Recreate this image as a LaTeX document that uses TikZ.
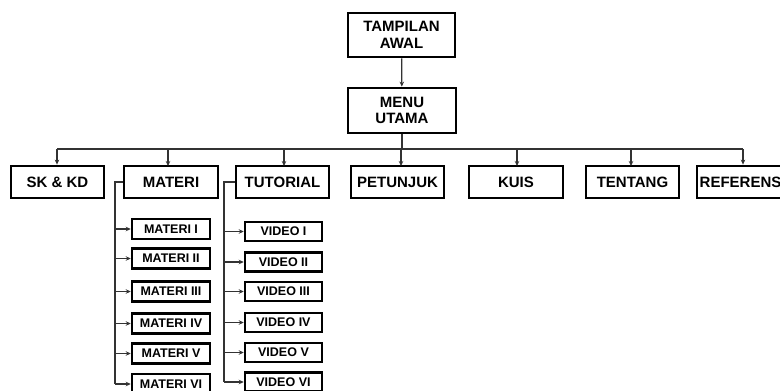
\documentclass[tikz,border=0pt]{standalone}
\usepackage{fontspec}
\setmainfont{Liberation Sans}
\usetikzlibrary{arrows.meta}
\begin{document}
\begin{tikzpicture}[x=1pt,y=-1pt,
  box/.style={draw=black,line width=2.8pt,fill=white,inner sep=0pt,font=\bfseries\fontsize{15}{16.5}\selectfont,align=center},
  topbox/.style={box,minimum width=93pt,minimum height=32pt},
  subbox/.style={draw=black,line width=2.5pt,fill=white,inner sep=0pt,font=\bfseries\fontsize{12.5}{14}\selectfont,minimum height=20pt},
  conn/.style={line width=1.2pt,draw=black!80},
  arr/.style={conn,-{Stealth[length=5pt,width=4.5pt]}}
]
\useasboundingbox (0,0) rectangle (780,391);
\clip (0,0) rectangle (780,391);
% top
\node[box,minimum width=107pt,minimum height=44pt] (awal) at (401.5,35) {TAMPILAN\\AWAL};
\node[box,minimum width=108pt,minimum height=45pt] (menu) at (402,110.5) {MENU\\UTAMA};
\draw[arr] (awal) -- (menu);
% row
\node[topbox] (sk) at (57.5,182) {SK \& KD};
\node[topbox,minimum width=94pt] (materi) at (171,182) {MATERI};
\node[topbox] (tutorial) at (282.5,182) {TUTORIAL};
\node[topbox] (petunjuk) at (397.5,182) {PETUNJUK};
\node[topbox,minimum width=94pt] (kuis) at (516,182) {KUIS};
\node[topbox] (tentang) at (632.5,182) {TENTANG};
\node[topbox,minimum width=100pt] (ref) at (747,182) {};
\node[anchor=west,inner sep=0pt,font=\bfseries\fontsize{15}{16.5}\selectfont] (reftext) at (699.5,182) {REFERENS};
\coordinate (bus) at (0,149);
\coordinate (busL) at (57,149);
\coordinate (busR) at (743,149);
\draw[conn] (busL) -- (busR);
\draw[conn] (menu.south) -- (menu.south |- bus);
\draw[arr] (busL) -- (busL |- sk.north);
\draw[arr] (168,149) -- (168,166);
\draw[arr] (284,149) -- (284,166);
\draw[arr] (401,149) -- (401,166);
\draw[arr] (517,149) -- (517,166);
\draw[arr] (631,149) -- (631,166);
\draw[arr] (busR) -- (busR |- ref.north);
% materi subs
\foreach \n/\t/\y in {m1/MATERI I/229,m2/MATERI II/258.5,m3/MATERI III/291.5,m4/MATERI IV/323.5,m5/MATERI V/353.5,m6/MATERI VI/384}{
  \node[subbox,minimum width=78pt] (\n) at (171,\y) {\t};
}
\foreach \n/\t/\y in {v1/VIDEO I/231.5,v2/VIDEO II/262,v3/VIDEO III/291.5,v4/VIDEO IV/322.5,v5/VIDEO V/352.5,v6/VIDEO VI/382}{
  \node[subbox,minimum width=77pt,minimum height=19pt] (\n) at (283.5,\y) {\t};
}
\coordinate (mx) at (115,182);
\coordinate (vx) at (224,182);
\draw[conn] (materi.west) -- (mx) -- (mx |- m6);
\draw[conn] (tutorial.west) -- (vx) -- (vx |- v6);
\foreach \n in {m1,m2,m3,m4,m5,m6}{ \draw[arr] (mx |- \n) -- (\n.west); }
\foreach \n in {v1,v2,v3,v4,v5,v6}{ \draw[arr] (vx |- \n) -- (\n.west); }
\end{tikzpicture}
\end{document}
